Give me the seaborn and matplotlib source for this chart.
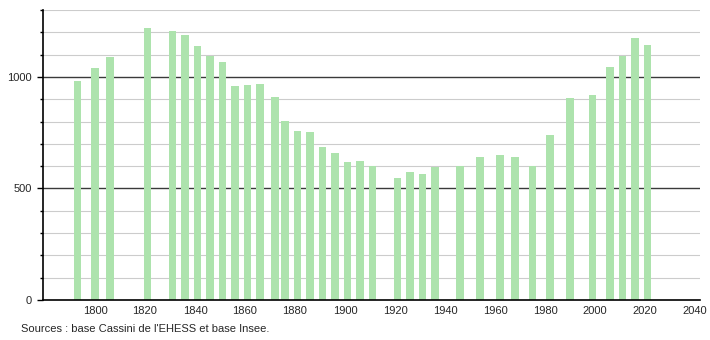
import matplotlib
matplotlib.use("Agg")
import matplotlib.pyplot as plt
import seaborn as sns
import pandas as pd
import numpy as np

years = [1793, 1800, 1806, 1821, 1831, 1836, 1841, 1846, 1851, 1856, 1861, 1866,
         1872, 1876, 1881, 1886, 1891, 1896, 1901, 1906, 1911, 1921, 1926, 1931,
         1936, 1946, 1954, 1962, 1968, 1975, 1982, 1990, 1999, 2006, 2011, 2016, 2021]
population = [982, 1040, 1091, 1218, 1206, 1188, 1139, 1096, 1067, 960, 964, 969,
              909, 803, 758, 755, 686, 659, 620, 623, 601, 549, 576, 565,
              595, 601, 643, 650, 643, 601, 738, 904, 919, 1043, 1094, 1173, 1143]
x_ticks = [1800, 1820, 1840, 1860, 1880, 1900, 1920, 1940, 1960, 1980, 2000, 2020, 2040]
y_ticks = [0, 500, 1000]
source_text = "Sources : base Cassini de l'EHESS et base Insee."

df = pd.DataFrame({"year": years, "pop": population})

sns.set_style("white")
plt.rcParams['font.family'] = ['Liberation Sans', 'DejaVu Sans']

fig = plt.figure(figsize=(7.1, 3.4), dpi=100)
ax = fig.add_axes([43/710, 40/340, (700-43)/710, 290/340])

# grid lines
for v in range(100, 1301, 100):
    major = (v % 500 == 0)
    ax.axhline(v, color='#3a3a3a' if major else '#cccccc', lw=1.0 if major else 0.8, zorder=0)

sns.barplot(data=df, x="year", y="pop", native_scale=True, width=0.8,
            color='#ade3ad', saturation=1, edgecolor='none', linewidth=0, ax=ax, zorder=2)

ax.set_xlim(1779.2, 2042)
ax.set_ylim(0, 1300)
ax.set_xticks(x_ticks)
ax.set_xticklabels([str(t) for t in x_ticks], fontsize=8)
ax.set_yticks(y_ticks)
ax.set_yticklabels([str(t) for t in y_ticks], fontsize=8)
ax.set_yticks(list(range(100, 1301, 100)), minor=True)
ax.tick_params(axis='x', length=0, pad=4)
ax.tick_params(axis='y', which='major', length=4, width=1, color='black', pad=4, left=True)
ax.tick_params(axis='y', which='minor', length=2.5, width=1, color='black', left=True)
ax.set_xlabel("")
ax.set_ylabel("")
for s in ['top', 'right']:
    ax.spines[s].set_visible(False)
ax.spines['left'].set_color('black')
ax.spines['bottom'].set_color('black')
ax.spines['left'].set_linewidth(1.2)
ax.spines['bottom'].set_linewidth(1.2)

fig.text(21/710, 1 - 329/340, source_text, fontsize=8, va='center', ha='left')

fig.savefig("out.png", dpi=100)
